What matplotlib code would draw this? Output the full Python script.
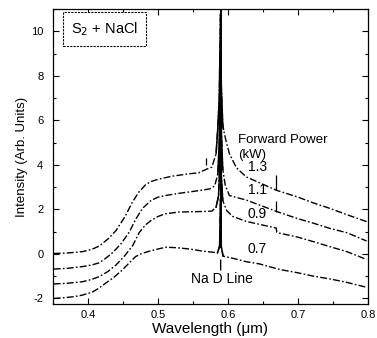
import matplotlib
matplotlib.use("Agg")
import matplotlib.pyplot as plt
import numpy as np
from matplotlib.ticker import MultipleLocator

plt.rcParams['font.family'] = ['Liberation Sans', 'DejaVu Sans']
plt.rcParams['axes.unicode_minus'] = False

# ---- data ----
wl_07 = [0.351, 0.365, 0.38, 0.392, 0.406, 0.415, 0.425, 0.437, 0.449, 0.459, 0.468,
         0.477, 0.4875, 0.50, 0.511, 0.526, 0.545, 0.565, 0.577, 0.585, 0.588, 0.5893,
         0.5905, 0.593, 0.610, 0.626, 0.645, 0.674, 0.70, 0.722, 0.745, 0.77, 0.798]
int_07 = [-2.0, -1.97, -1.92, -1.85, -1.72, -1.55, -1.32, -1.05, -0.72, -0.40, -0.12,
          0.02, 0.12, 0.22, 0.30, 0.28, 0.22, 0.12, 0.08, 0.05, 0.35, 2.5,
          0.30, -0.10, -0.22, -0.35, -0.45, -0.70, -0.85, -1.0, -1.12, -1.28, -1.5]

wl_09 = [0.351, 0.37, 0.392, 0.405, 0.416, 0.428, 0.44, 0.452, 0.464, 0.473, 0.482,
         0.49, 0.50, 0.51, 0.53, 0.558, 0.577, 0.583, 0.5865, 0.588, 0.5893, 0.5905,
         0.5925, 0.598, 0.607, 0.626, 0.669, 0.6695, 0.674, 0.70, 0.722, 0.745, 0.77,
         0.798]
int_09 = [-1.35, -1.32, -1.25, -1.15, -1.02, -0.80, -0.50, -0.10, 0.38, 0.95, 1.30,
          1.50, 1.68, 1.80, 1.88, 1.90, 1.92, 2.10, 2.60, 3.80, 6.5, 3.50,
          2.40, 1.95, 1.68, 1.46, 1.16, 0.98, 0.93, 0.75, 0.55, 0.33, 0.10,
          -0.25]

wl_11 = [0.351, 0.37, 0.392, 0.405, 0.416, 0.426, 0.435, 0.447, 0.459, 0.468, 0.478,
         0.49, 0.50, 0.51, 0.53, 0.558, 0.574, 0.581, 0.5855, 0.5875, 0.5893, 0.5905,
         0.5925, 0.596, 0.602, 0.626, 0.669, 0.70, 0.722, 0.745, 0.77, 0.798]
int_11 = [-0.68, -0.65, -0.57, -0.50, -0.40, -0.18, 0.05, 0.45, 0.98, 1.55, 2.05,
          2.40, 2.55, 2.62, 2.72, 2.84, 2.92, 3.05, 3.60, 5.0, 9.1, 5.5,
          3.8, 3.1, 2.62, 2.42, 1.91, 1.58, 1.38, 1.15, 0.95, 0.58]

wl_13 = [0.351, 0.37, 0.392, 0.405, 0.416, 0.43, 0.44, 0.453, 0.463, 0.472, 0.482,
         0.49, 0.50, 0.52, 0.545, 0.558, 0.569, 0.577, 0.583, 0.5855, 0.5875, 0.5893,
         0.5905, 0.5925, 0.5935, 0.597, 0.602, 0.612, 0.626, 0.669, 0.70, 0.722,
         0.745, 0.77, 0.798]
int_13 = [0.02, 0.04, 0.10, 0.20, 0.35, 0.71, 1.05, 1.68, 2.30, 2.75, 3.10,
          3.25, 3.35, 3.49, 3.60, 3.64, 3.80, 3.90, 4.50, 5.70, 7.0, 10.8,
          7.5, 5.8, 5.6, 5.1, 4.5, 3.87, 3.46, 2.86, 2.55, 2.29,
          2.05, 1.76, 1.45]

series = [("0.7", wl_07, int_07), ("0.9", wl_09, int_09),
          ("1.1", wl_11, int_11), ("1.3", wl_13, int_13)]
power_labels = ["1.3", "1.1", "0.9", "0.7"]
power_label_y = [3.9, 2.85, 1.8, 0.22]

# small marker ticks seen on the curves
mark_x = [0.669, 0.669, 0.569]
mark_lo = [2.86, 1.86, 4.0]
mark_hi = [3.56, 2.38, 4.3]

x_ticks = [0.4, 0.5, 0.6, 0.7, 0.8]
y_ticks = [-2, 0, 2, 4, 6, 8, 10]

# ---- figure ----
fig = plt.figure(figsize=(3.77, 3.38), dpi=100)
ax = fig.add_axes([0.1406, 0.1006, 0.8355, 0.8728])

dash = (0, (5, 1.6, 1.2, 1.6))
spike_lo, spike_hi = 0.583, 0.5945
for name, wl, it in series:
    wl = np.asarray(wl)
    it = np.asarray(it)
    ax.plot(wl, it, color='black', lw=1.0, linestyle=dash)
    m = (wl >= spike_lo) & (wl <= spike_hi)
    ax.plot(wl[m], it[m], color='black', lw=1.1, solid_joinstyle='miter')

# thick central line of the Na D emission
ax.plot([0.5893, 0.5893], [0.3, 11], color='black', lw=1.4)

ax.vlines(mark_x, mark_lo, mark_hi, color='black', lw=0.9)

ax.set_xlim(0.35, 0.8)
ax.set_ylim(-2.25, 11)
ax.set_xticks(x_ticks)
ax.set_xticklabels([f"{v:.1f}" for v in x_ticks])
ax.set_yticks(y_ticks)
ax.set_yticklabels([str(v) for v in y_ticks])
ax.xaxis.set_minor_locator(MultipleLocator(0.05))
ax.yaxis.set_minor_locator(MultipleLocator(1))
ax.tick_params(which='both', direction='in', top=True, right=True, width=0.8)
ax.tick_params(which='major', length=4)
ax.tick_params(which='minor', length=2)
ax.tick_params(axis='y', labelsize=8, pad=7)
ax.tick_params(axis='x', labelsize=8, pad=4)
for s in ax.spines.values():
    s.set_linewidth(0.9)

ax.set_xlabel("Wavelength (\u03bcm)", fontsize=11, labelpad=2)
ax.set_ylabel("Intensity (Arb. Units)", fontsize=9.5, labelpad=2)

# annotations
ax.text(0.615, 5.1, "Forward Power", fontsize=9.5, ha='left', va='center')
ax.text(0.615, 4.45, "(kW)", fontsize=9.5, ha='left', va='center')
for lab, yy in zip(power_labels, power_label_y):
    ax.text(0.628, yy, lab, fontsize=10, ha='left', va='center')

ax.annotate("", xy=(0.5895, -0.15), xytext=(0.5895, -0.85),
            arrowprops=dict(arrowstyle='-', color='black', lw=1.0))
ax.text(0.592, -1.12, "Na D Line", fontsize=10, ha='center', va='center')

ax.text(0.376, 10.1, "S$_2$ + NaCl", fontsize=10.5, ha='left', va='center',
        bbox=dict(boxstyle='square,pad=0.55', fc='white', ec='black', lw=0.8,
                  linestyle=(0, (2, 1))))

fig.savefig("out.png", dpi=100)
